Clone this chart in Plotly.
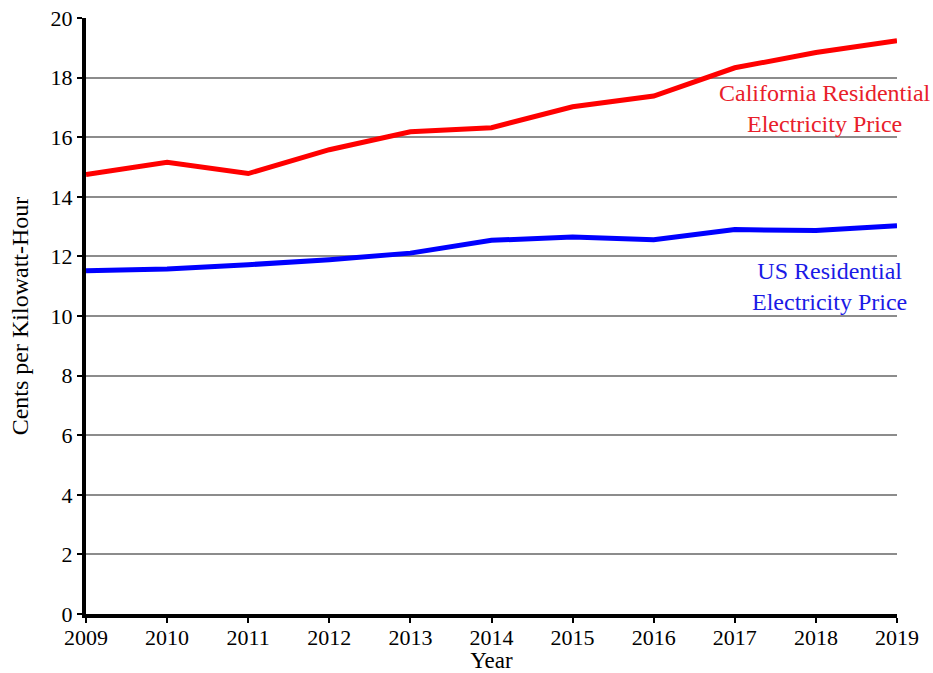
import plotly.graph_objects as go

years = [2009, 2010, 2011, 2012, 2013, 2014, 2015, 2016, 2017, 2018, 2019]
california = [14.75, 15.16, 14.78, 15.58, 16.18, 16.32, 17.02, 17.38, 18.33, 18.84, 19.24]
us = [11.52, 11.58, 11.72, 11.89, 12.11, 12.54, 12.65, 12.56, 12.90, 12.87, 13.03]

RED = "#ff0000"
BLUE = "#0000ff"
FONT = "Liberation Serif"

fig = go.Figure()
fig.add_trace(go.Scatter(x=years, y=california, mode="lines",
                         line=dict(color=RED, width=5), showlegend=False))
fig.add_trace(go.Scatter(x=years, y=us, mode="lines",
                         line=dict(color=BLUE, width=5), showlegend=False))

fig.add_annotation(x=2018.11, y=16.98, text="California Residential<br>Electricity Price",
                   showarrow=False, xanchor="center", yanchor="middle",
                   font=dict(family=FONT, size=24, color="#e8202a"))
fig.add_annotation(x=2018.17, y=10.98, text="US Residential<br>Electricity Price",
                   showarrow=False, xanchor="center", yanchor="middle",
                   font=dict(family=FONT, size=24, color="#1a1ae6"))

fig.update_layout(
    width=933, height=673,
    margin=dict(l=86, r=36, t=18, b=59),
    paper_bgcolor="white", plot_bgcolor="white",
    font=dict(family=FONT, size=22, color="black"),
    xaxis=dict(range=[2009, 2019], tickmode="array", tickvals=years,
               ticktext=[str(y) for y in years],
               showgrid=False, zeroline=False, automargin=False,
               showline=True, linecolor="black", linewidth=4,
               ticks="outside", ticklen=5, tickwidth=2, tickcolor="black",
               ticklabelstandoff=-4,
               title=dict(text="Year", font=dict(size=23), standoff=8),
               tickfont=dict(size=22)),
    yaxis=dict(range=[0, 20], dtick=2, tick0=0,
               showgrid=True, gridcolor="#8c8c8c", gridwidth=1.5,
               zeroline=False, automargin=False,
               showline=True, linecolor="black", linewidth=4,
               ticks="outside", ticklen=5, tickwidth=2, tickcolor="black",
               title=dict(text="Cents per Kilowatt-Hour", font=dict(size=24), standoff=16),
               tickfont=dict(size=22)),
)

fig.write_html("out.html", config={"displayModeBar": False},
               post_script="document.body.style.margin='0';document.body.style.overflow='hidden';")
